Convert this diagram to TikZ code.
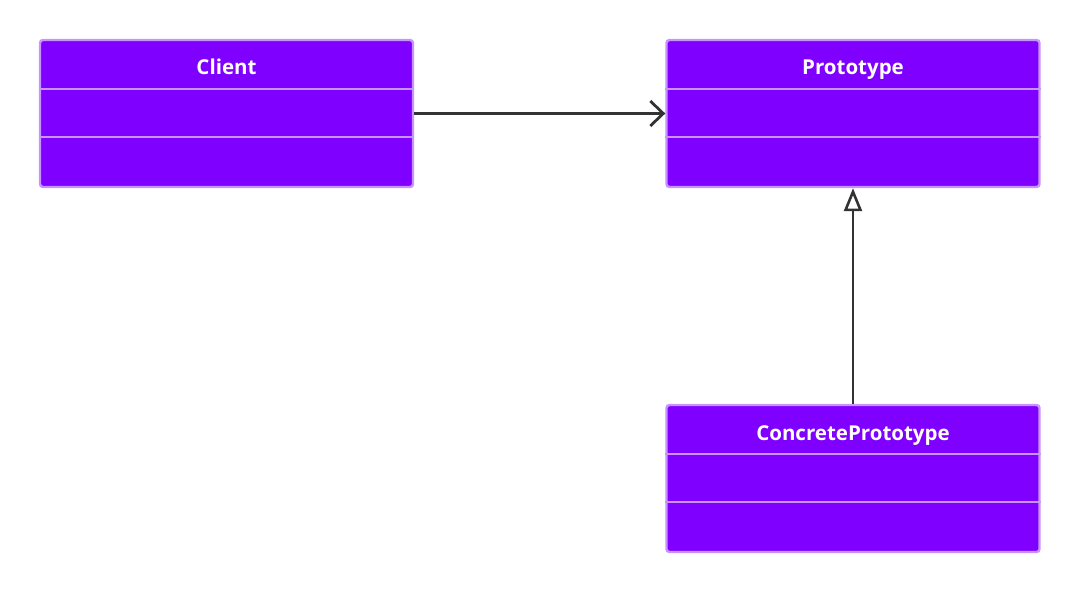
\documentclass[tikz,border=0pt]{standalone}
\usepackage{fontspec}
\setmainfont{Open Sans}
\usetikzlibrary{arrows.meta}
\definecolor{classfill}{HTML}{7F00FF}
\definecolor{classline}{HTML}{C893FF}
\definecolor{edge}{HTML}{333333}
\tikzset{
  classbox/.style={draw=classline, fill=classfill, line width=2.4bp, rounded corners=3bp,
    minimum width=373bp, minimum height=147bp, inner sep=0pt},
  classtitle/.style={text=white, anchor=base, inner sep=0pt, font=\fontsize{20.5bp}{24bp}\selectfont\bfseries},
  divider/.style={draw=classline, line width=2.2bp},
  assoc/.style={draw=edge, line width=2.8bp, -{Straight Barb[length=13bp,width=25bp,line width=2.8bp]}},
  inherit/.style={draw=edge, line width=2.8bp, -{Triangle[open,length=23bp,width=18bp,line width=2.6bp,fill=white]}}
}
\begin{document}
\begin{tikzpicture}[x=1bp,y=-1bp]
\fill[white] (0,0) rectangle (1080,592);
\useasboundingbox (0,0) rectangle (1080,592);

\node[classbox] (client) at (226.5,113.5) {};
\node[classbox] (proto) at (853,113.5) {};
\node[classbox] (concrete) at (853,478.5) {};

\foreach \n in {client,proto,concrete}{
  \draw[divider] ([yshift=24.5bp]\n.west) -- ([yshift=24.5bp]\n.east);
  \draw[divider] ([yshift=-23.5bp]\n.west) -- ([yshift=-23.5bp]\n.east);
}

\node[classtitle] (clientT) at ([yshift=38.5bp]client.center) {Client};
\node[classtitle] (protoT) at ([yshift=38.5bp]proto.center) {Prototype};
\node[classtitle] (concreteT) at ([yshift=38.5bp]concrete.center) {ConcretePrototype};

\draw[assoc] (client.east) -- (proto.west);
\draw[inherit] (concrete.north) -- (proto.south);
\end{tikzpicture}
\end{document}
